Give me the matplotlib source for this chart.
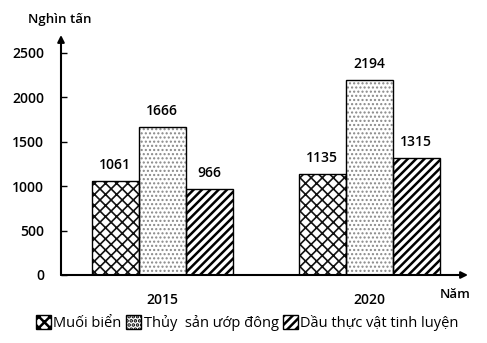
import matplotlib.pyplot as plt
from matplotlib.patches import Patch
import numpy as np

years = ["2015", "2020"]
series_names = ["Muối biển", "Thủy  sản ướp đông", "Dầu thực vật tinh luyện"]
muoi_bien = [1061, 1135]
thuy_san = [1666, 2194]
dau_thuc_vat = [966, 1315]
yticks = [0, 500, 1000, 1500, 2000, 2500]

plt.rcParams['font.family'] = ['Open Sans', 'DejaVu Sans']

fig = plt.figure(figsize=(4.87, 3.43), dpi=100)
ax = fig.add_axes([61/487, 1-275/343, (468-61)/487, (275-35)/343])

x = np.arange(len(years))
w = 0.227
hatches = ['xxx', '....', '////']
hatch_lw = [1.2, 1.0, 1.8]
hatch_col = ['#111111', '#888888', 'black']
data = [muoi_bien, thuy_san, dau_thuc_vat]
for i, (vals, h) in enumerate(zip(data, hatches)):
    pos = x + (i - 1) * w
    plt.rcParams['hatch.linewidth'] = hatch_lw[i]
    ax.bar(pos, vals, w, color='white', edgecolor=hatch_col[i], hatch=h, linewidth=0, zorder=2)
    ax.bar(pos, vals, w, color='none', edgecolor='black', linewidth=1.0, zorder=3)
    for p, v in zip(pos, vals):
        ax.text(p, v + 100, str(v), ha='center', va='bottom', fontsize=10, fontweight='semibold')

ax.set_xlim(-0.488, 1.478)
ax.set_ylim(0, 2700)
ax.set_yticks(yticks)
ax.set_yticklabels([str(t) for t in yticks], fontsize=10, fontweight='semibold')
ax.tick_params(axis='y', direction='in', length=4, width=1, pad=12)
ax.set_xticks(x)
ax.set_xticklabels(years, fontsize=10, fontweight='semibold')
ax.tick_params(axis='x', length=0, pad=13)
for s in ['top', 'right', 'left', 'bottom']:
    ax.spines[s].set_visible(False)

ax.annotate('', xy=(0, 1.0), xycoords='axes fraction', xytext=(0, 0),
            arrowprops=dict(arrowstyle='-|>', color='black', lw=1.5, mutation_scale=10, shrinkA=0, shrinkB=0))
ax.annotate('', xy=(1.0, 0), xycoords='axes fraction', xytext=(0, 0),
            arrowprops=dict(arrowstyle='-|>', color='black', lw=1.5, mutation_scale=10, shrinkA=0, shrinkB=0))

fig.text(60/487, 1-20/343, "Nghìn tấn", ha='center', va='center', fontsize=9.5, fontweight='semibold')
fig.text(455/487, 1-295/343, "Năm", ha='center', va='center', fontsize=9.5, fontweight='semibold')

handles = []
for i, (n, h) in enumerate(zip(series_names, hatches)):
    plt.rcParams['hatch.linewidth'] = hatch_lw[i]
    handles.append(Patch(facecolor='white', edgecolor='black', hatch=h, label=n, linewidth=1.0))
fig.legend(handles=handles, loc='center', bbox_to_anchor=(0.508, 1-323/343), ncol=3,
           frameon=False, fontsize=10.5, handlelength=1.0, handleheight=1.1,
           handletextpad=0.2, columnspacing=0.3)

fig.savefig('out.png', dpi=100)
